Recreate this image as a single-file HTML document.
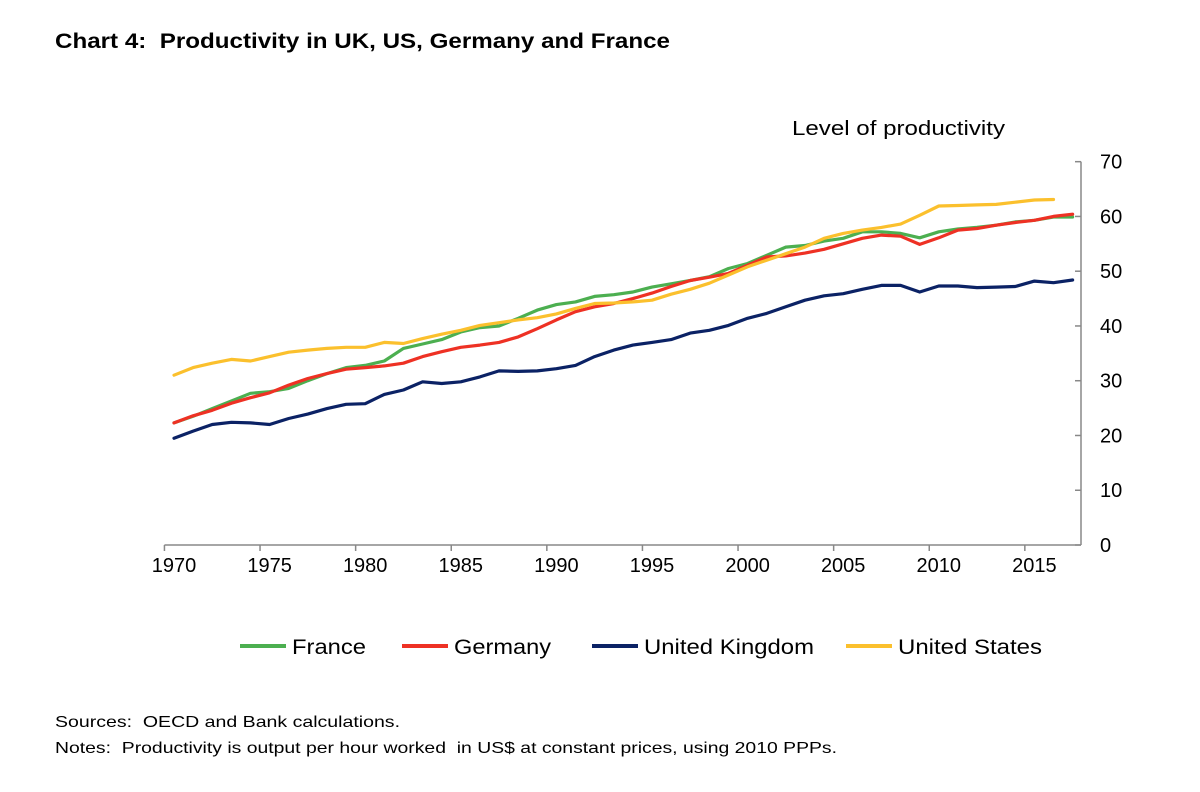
<!DOCTYPE html>
<html><head><meta charset="utf-8"><style>
html,body{margin:0;padding:0;background:#fff;}
svg{display:block;font-family:"Liberation Sans",Arial,sans-serif;}
svg text{white-space:pre;}
</style></head><body>
<svg id="chart" width="1200" height="792" viewBox="0 0 1200 792">
<text x="55" y="48" font-size="21" font-weight="bold" textLength="615" lengthAdjust="spacingAndGlyphs">Chart 4:  Productivity in UK, US, Germany and France</text>
<text x="792" y="135" font-size="20" textLength="213" lengthAdjust="spacingAndGlyphs">Level of productivity</text>
<g id="axes"></g>
<g id="series"></g>
<g id="legend"></g>
<text x="55" y="727" font-size="16" textLength="345" lengthAdjust="spacingAndGlyphs">Sources:  OECD and Bank calculations.</text>
<text x="55" y="753" font-size="16" textLength="782" lengthAdjust="spacingAndGlyphs">Notes:  Productivity is output per hour worked  in US$ at constant prices, using 2010 PPPs.</text>
</svg>
<script>
const years = [];
for (let y = 1970; y <= 2017; y++) years.push(y);
const xTickLabels = ["1970","1975","1980","1985","1990","1995","2000","2005","2010","2015"];
const yTickValues = [0,10,20,30,40,50,60,70];
const seriesNames = ["France","Germany","United Kingdom","United States"];
const seriesColors = ["#4caf50","#ee3124","#0b2265","#fbc02d"];
const france = [22.3,23.5,24.9,26.3,27.7,28.0,28.6,30.0,31.3,32.4,32.8,33.6,35.9,36.7,37.5,38.9,39.7,40.0,41.4,42.9,43.9,44.4,45.4,45.7,46.2,47.1,47.7,48.3,49.0,50.5,51.4,52.9,54.4,54.7,55.5,56.0,57.2,57.2,56.9,56.1,57.2,57.7,58.0,58.4,59.0,59.3,59.9,59.9];
const germany = [22.3,23.6,24.6,25.9,26.9,27.8,29.2,30.4,31.3,32.1,32.4,32.7,33.2,34.4,35.3,36.1,36.5,37.0,38.0,39.5,41.1,42.6,43.5,44.1,45.0,46.0,47.2,48.3,48.9,49.6,51.1,52.6,52.8,53.3,54.0,55.0,56.0,56.6,56.4,54.9,56.1,57.5,57.8,58.4,58.9,59.3,60.0,60.4];
const uk = [19.5,20.8,22.0,22.4,22.3,22.0,23.1,23.9,24.9,25.7,25.8,27.5,28.3,29.8,29.5,29.8,30.7,31.8,31.7,31.8,32.2,32.8,34.4,35.6,36.5,37.0,37.5,38.7,39.2,40.1,41.4,42.3,43.5,44.7,45.5,45.9,46.7,47.4,47.4,46.2,47.3,47.3,47.0,47.1,47.2,48.2,47.9,48.4];
const us = [31.0,32.4,33.2,33.9,33.6,34.4,35.2,35.6,35.9,36.1,36.1,37.0,36.8,37.7,38.5,39.2,40.1,40.6,41.1,41.5,42.2,43.2,44.1,44.2,44.4,44.7,45.8,46.7,47.8,49.3,50.8,52.0,53.2,54.4,56.0,56.9,57.5,58.0,58.6,60.2,61.9,62.0,62.1,62.2,62.6,63.0,63.1];
const seriesData = [france, germany, uk, us];

const NS = "http://www.w3.org/2000/svg";
const X0 = 174, DX = 19.12, Y0 = 545, YK = 5.476;
function xPos(i){ return X0 + DX*i; }
function yPos(v){ return Y0 - YK*v; }
function mk(tag, attrs, parent){ const e=document.createElementNS(NS,tag); for(const k in attrs) e.setAttribute(k,attrs[k]); parent.appendChild(e); return e; }

const axes = document.getElementById('axes');
const xAxis = mk('line',{x1:xPos(-0.5),y1:Y0,x2:1081,y2:Y0,stroke:'#888','stroke-width':1.5},axes);


const yAxis = mk('line',{x1:1081,y1:yPos(70),x2:1081,y2:Y0,stroke:'#888','stroke-width':1.5},axes);


xTickLabels.forEach((lab,k)=>{
  const i = years.indexOf(parseInt(lab));
  const tx = xPos(i-0.5);
  const t = mk('line',{x1:tx,y1:Y0,x2:tx,y2:Y0+6,stroke:'#888','stroke-width':1.5},axes);
  
  
  const l = mk('text',{x:xPos(i),y:Y0+27,'font-size':20,'text-anchor':'middle'},axes);
  l.textContent = lab;
  
  
});
yTickValues.forEach(v=>{
  const t = mk('line',{x1:1075,y1:yPos(v),x2:1081,y2:yPos(v),stroke:'#888','stroke-width':1.5},axes);
  
  
  const l = mk('text',{x:1100,y:yPos(v)+7,'font-size':20},axes);
  l.textContent = String(v);
  
  
});

const sg = document.getElementById('series');
seriesData.forEach((d,s)=>{
  const pts = d.map((v,i)=>xPos(i).toFixed(1)+','+yPos(v).toFixed(1)).join(' ');
  const p = mk('polyline',{points:pts,fill:'none',stroke:seriesColors[s],'stroke-width':3.2,'stroke-linejoin':'round','stroke-linecap':'round'},sg);
  
  
});

const lg = document.getElementById('legend');
const legX = [240,402,592,846];
const legW = [74,97,170,144];
seriesNames.forEach((n,s)=>{
  const g = mk('g',{},lg);
  
  
  mk('line',{x1:legX[s],y1:646,x2:legX[s]+46,y2:646,stroke:seriesColors[s],'stroke-width':4},g);
  const t = mk('text',{x:legX[s]+52,y:654,'font-size':21,textLength:legW[s],lengthAdjust:'spacingAndGlyphs'},g);
  t.textContent = n;
});
</script>
</body></html>
